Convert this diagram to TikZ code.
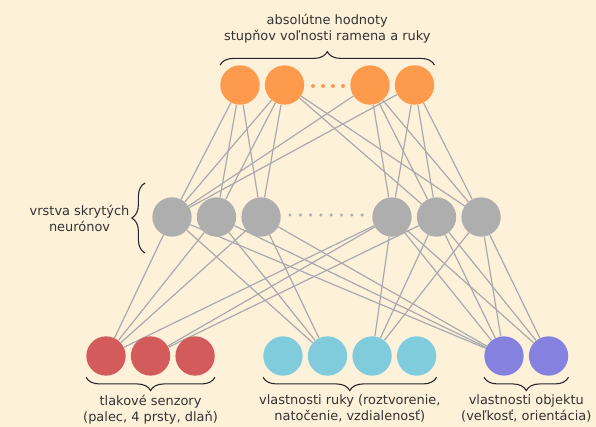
\documentclass[tikz,border=0pt]{standalone}
\usepackage{fontspec}
\setmainfont{DejaVu Sans}
\usepackage{xcolor}
\usetikzlibrary{positioning,backgrounds,decorations.pathreplacing}

\definecolor{paper}{HTML}{FEF1DA}
\definecolor{outorange}{HTML}{FD9A4C}
\definecolor{hidgray}{HTML}{AEAEAE}
\definecolor{presred}{HTML}{D45B5B}
\definecolor{handcyan}{HTML}{80CBDC}
\definecolor{objviolet}{HTML}{8581DE}
\definecolor{wire}{HTML}{A9AAAE}

\begin{document}
\begin{tikzpicture}[
  x=0.75pt, y=-0.75pt,
  node distance=3.5pt,
  neuron/.style={circle, minimum size=29.5pt, inner sep=0pt},
  outn/.style={neuron, fill=outorange},
  hidn/.style={neuron, fill=hidgray},
  presn/.style={neuron, fill=presred},
  handn/.style={neuron, fill=handcyan},
  objn/.style={neuron, fill=objviolet},
  link/.style={draw=wire, line width=0.9pt},
  brace/.style={decorate, decoration={brace, amplitude=10pt}, line width=0.8pt, draw=black!85},
  note/.style={align=center, font=\fontsize{9.7}{12}\selectfont, text=black!80}
]
\useasboundingbox (0,0) rectangle (596,427);

% output layer
\node[outn] (o1) at (240,85) {};
\node[outn, right=of o1] (o2) {};
\node[outn] (o3) at (370,85) {};
\node[outn, right=of o3] (o4) {};

% hidden layer
\node[hidn] (g1) at (172,217) {};
\node[hidn, right=of g1] (g2) {};
\node[hidn, right=of g2] (g3) {};
\node[hidn] (g4) at (392,217) {};
\node[hidn, right=of g4] (g5) {};
\node[hidn, right=of g5] (g6) {};

% inputs
\node[presn] (r1) at (106,356) {};
\node[presn, right=of r1] (r2) {};
\node[presn, right=of r2] (r3) {};
\node[handn] (c1) at (283,356) {};
\node[handn, right=of c1] (c2) {};
\node[handn, right=of c2] (c3) {};
\node[handn, right=of c3] (c4) {};
\node[objn] (v1) at (504,356) {};
\node[objn, right=of v1] (v2) {};

% dots
\foreach \i in {0,...,3} \fill[outorange] (313+\i*10,86) circle (1.5pt);
\foreach \i in {0,...,7} \fill[hidgray] (290+\i*10.3,215) circle (1.3pt);

\begin{scope}[on background layer]
\fill[paper] (0,0) rectangle (596,427);
\foreach \a/\b in {o1/g1,o1/g2,o1/g3,o2/g1,o2/g2,o2/g3,o2/g5,o2/g6,
                   o3/g1,o3/g4,o3/g5,o3/g6,o4/g1,o4/g4,o4/g5,o4/g6}
  \draw[link] (\a) -- (\b);
\foreach \a/\b in {g1/r1,g2/r1,g3/r1,g4/r1,g4/r2,g5/r2,
                   g1/c2,g2/c2,g3/c2,g4/c3,g5/c3,g6/c3,
                   g1/v1,g2/v1,g3/v1,g4/v1,g5/v1,g6/v1,g4/v2,g5/v2,g6/v2}
  \draw[link] (\a) -- (\b);
\end{scope}

% braces and captions
\draw[brace] (o1.west |- o1.north) -- (o4.east |- o4.north)
  node[midway, above=12.5pt, note] (outtxt) {absolútne hodnoty\\stupňov voľnosti ramena a ruky};
\draw[brace] ([shift={(-7,36)}]g1.west) -- ([shift={(-7,-34)}]g1.west)
  node[midway, left=8pt, note] (hidtxt) {vrstva skrytých\\neurónov};
\draw[brace] ([yshift=-1pt]r3.east |- r3.south) -- ([yshift=-1pt]r1.west |- r1.south)
  node[midway, below=9.5pt, note] (prestxt) {tlakové senzory\\(palec, 4 prsty, dlaň)};
\draw[brace] ([yshift=-1pt]c4.east |- c4.south) -- ([yshift=-1pt]c1.west |- c1.south)
  node[midway, below=9.5pt, note] (handtxt) {vlastnosti ruky (roztvorenie,\\natočenie, vzdialenosť)};
\draw[brace] ([yshift=-1pt]v2.east |- v2.south) -- ([yshift=-1pt]v1.west |- v1.south)
  node[midway, below=9.5pt, note] (objtxt) {vlastnosti objektu\\(veľkosť, orientácia)};
\end{tikzpicture}
\end{document}
